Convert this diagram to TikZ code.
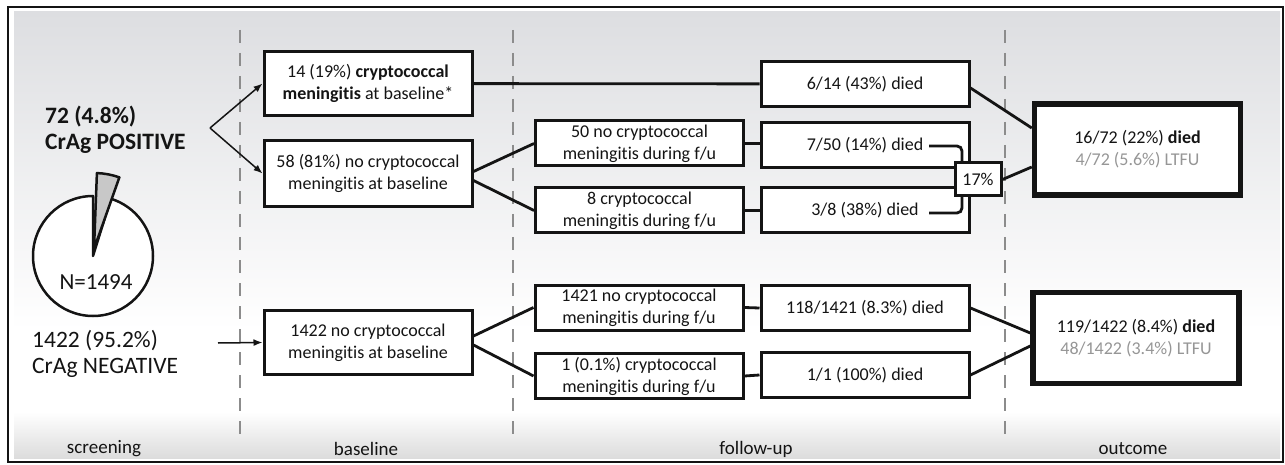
\documentclass[tikz,border=0pt]{standalone}
\usepackage{fontspec}
\setmainfont{Carlito}[Ligatures=CommonOff]
\usetikzlibrary{arrows.meta,positioning,calc}
\definecolor{ink}{RGB}{20,20,20}
\definecolor{ltfu}{RGB}{150,150,150}
\definecolor{divider}{RGB}{140,140,140}
\definecolor{bgtop}{RGB}{221,222,225}
\definecolor{bgfoot}{RGB}{220,220,220}
\definecolor{slice}{RGB}{200,200,200}

\begin{document}
\begin{tikzpicture}[x=1pt, y=-1pt,
  box/.style={draw=ink, fill=white, line width=3pt, inner sep=0pt,
              minimum width=208pt, minimum height=45pt, align=center,
              font=\fontsize{18}{22}\selectfont, text=ink},
  outcome/.style={box, line width=5.5pt, minimum width=206pt, minimum height=91pt},
  conn/.style={draw=ink, line width=2.8pt},
  arr/.style={-{Latex[length=9pt,width=7pt]}, draw=ink, line width=1.5pt},
  pieline/.style={draw=ink, line width=2.5pt, line join=round},
  biglabel/.style={anchor=west, align=left, inner sep=0pt,
                   font=\fontsize{23.5}{26}\selectfont, text=ink},
  phase/.style={inner sep=0pt, font=\fontsize{19}{22}\selectfont, text=ink},
  phaseline/.style={draw=divider, line width=2.4pt, dash pattern=on 13pt off 10pt}
]
  \useasboundingbox (0,0) rectangle (1285,465);
  \fill[white] (0,0) rectangle (1285,465);

  % panel background and frame
  \fill[top color=bgtop, bottom color=white] (14,12) rectangle (1280,330);
  \fill[white] (14,330) rectangle (1280,412);
  \fill[top color=white, bottom color=bgfoot] (14,412) rectangle (1280,458);
  \draw[draw=ink, line width=2.6pt] (8,7) rectangle (1283,462);

  \foreach \xd in {240,513,1005}
    \draw[phaseline] (\xd,30) -- (\xd,438);

  \foreach \xl/\nm/\txt in {104/screen/screening, 366/base/baseline, 756/follow/follow-up, 1133/outc/outcome}
    \node[phase] (\nm) at (\xl,449) {\txt};

  % screening pie
  \begin{scope}[shift={(93,256)}, y=1pt]
    \draw[pieline, fill=white] (0,0) -- (90:60) arc[start angle=90, end angle=432.7, radius=60] -- cycle;
  \end{scope}
  \begin{scope}[shift={(94,249)}, y=1pt]
    \draw[pieline, fill=slice] (0,0) -- (87.8:76) arc[start angle=87.8, end angle=70.5, radius=76] -- cycle;
  \end{scope}
  \node[phase, font=\fontsize{23}{26}\selectfont] (total) at (96,282) {N=1494};

  \node[biglabel] (crpos) at (45,129.5) {\textbf{72 (4.8\%)}\\\textbf{CrAg POSITIVE}};
  \node[biglabel] (crneg) at (32,353.5) {1422 (95.2\%)\\CrAg NEGATIVE};

  % baseline
  \node[box, minimum height=64pt] (cmbase)   at (368,83.5)  {14 (19\%) \textbf{cryptococcal}\\\textbf{meningitis} at baseline*};
  \node[box, minimum height=66pt] (nocmbase) at (368,173.5) {58 (81\%) no cryptococcal\\meningitis at baseline};
  \node[box, minimum height=64pt] (negbase)  at (368,342.5) {1422 no cryptococcal\\meningitis at baseline};

  % follow-up
  \node[box] (died14)   at (865,84)    {6/14 (43\%) died};
  \node[box] (nocm50)   at (639.5,143.5) {50 no cryptococcal\\meningitis during f/u};
  \node[box] (died50)   at (865,145)   {7/50 (14\%) died};
  \node[box] (cm8)      at (639.5,210.5) {8 cryptococcal\\meningitis during f/u};
  \node[box] (died8)    at (865,210.5) {3/8 (38\%) died};
  \node[box] (nocm1421) at (639,307.5) {1421 no cryptococcal\\meningitis during f/u};
  \node[box] (cm1)      at (639,376)   {1 (0.1\%) cryptococcal\\meningitis during f/u};
  \node[box] (died1421) at (865,308)   {118/1421 (8.3\%) died};
  \node[box] (died1)    at (865,375)   {1/1 (100\%) died};

  % outcome
  \node[outcome] (outpos) at (1137.5,149.5) {16/72 (22\%) \textbf{died}\\\textcolor{ltfu}{4/72 (5.6\%) LTFU}};
  \node[outcome] (outneg) at (1136,338) {119/1422 (8.4\%) \textbf{died}\\\textcolor{ltfu}{48/1422 (3.4\%) LTFU}};

  \coordinate (fork) at (210,128);
  \coordinate (negin) at (218,343);
  \foreach \n in {cmbase,nocmbase}
    \draw[arr] (fork) -- (\n.west);
  \draw[arr] (negin) -- (negbase.west);

  \draw[conn] (cmbase) -- (died14);
  \draw[conn] ([yshift=2pt]nocmbase.east) -- (nocm50.west);
  \draw[conn] ([yshift=-7pt]nocmbase.east) -- (cm8.west);
  \draw[conn] (nocm50.east) -- (nocm50.east -| died50.west);
  \draw[conn] (cm8.east) -- (died8.west);
  \draw[conn] ([yshift=6.5pt]negbase.east) -- (nocm1421.west);
  \draw[conn] ([yshift=-2.5pt]negbase.east) -- (cm1.west);
  \draw[conn] (nocm1421.east) -- (died1421.west);
  \draw[conn] (cm1.east) -- (died1.west);

  % pooled deaths after no baseline meningitis
  \coordinate (brk) at (962,180);
  \draw[conn, rounded corners=5pt] ([xshift=64pt,yshift=-1pt]died50.center) -| (brk) |- ([xshift=64pt,yshift=-2.5pt]died8.center);
  \node[box, minimum width=46pt, minimum height=33pt] (pct) at (978,179.5) {17\%};

  \draw[conn] ([yshift=-4pt]died14.east) -- ([yshift=21.5pt]outpos.west);
  \draw[conn] (pct.east) -- ([yshift=-17.5pt]outpos.west);
  \draw[conn] (died1421.east) -- ([yshift=5pt]outneg.west);
  \draw[conn] (died1.east) -- ([yshift=-8pt]outneg.west);
\end{tikzpicture}
\end{document}
